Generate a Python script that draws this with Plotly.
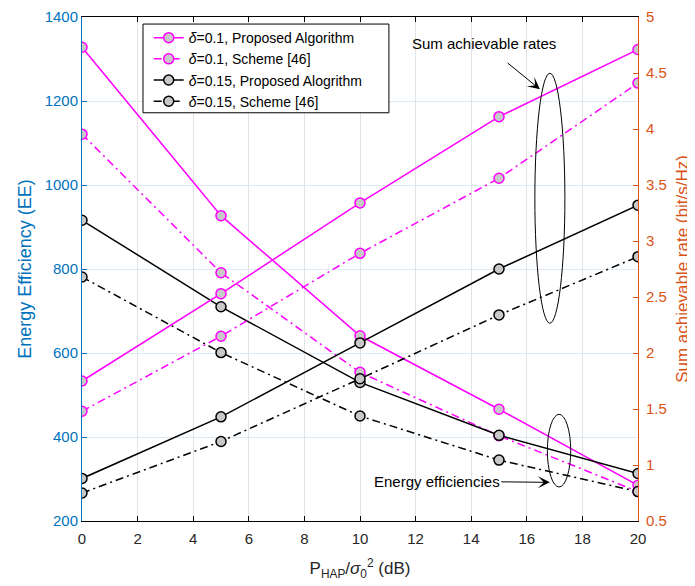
import plotly.graph_objects as go

# ---- data ----
snr_db = [0, 5, 10, 15, 20]

ee_prop_01 = [1328, 927, 641, 466, 285]
ee_sch_01 = [1121, 791, 554, 403, 270]
ee_prop_015 = [916, 710, 530, 404, 313]
ee_sch_015 = [781, 601, 450, 345, 270]

rate_prop_01 = [1.75, 2.53, 3.34, 4.11, 4.71]
rate_sch_01 = [1.48, 2.15, 2.89, 3.56, 4.41]
rate_prop_015 = [0.88, 1.43, 2.09, 2.75, 3.32]
rate_sch_015 = [0.75, 1.21, 1.77, 2.34, 2.86]

legend_names = [
    "<i>δ</i>=0.1, Proposed Algorithm",
    "<i>δ</i>=0.1, Scheme [46]",
    "<i>δ</i>=0.15, Proposed Alogrithm",
    "<i>δ</i>=0.15, Scheme [46]",
]

x_ticks = list(range(0, 21, 2))

# ---- styles ----
FONT = "Liberation Sans, Arial, sans-serif"
BLUE = "#0072BD"
ORANGE = "#D95319"
MAG = "#FF00FF"
BLK = "#000000"
GRAYFILL = "#C8C8C8"
DASHDOT = "8px,4px,2px,4px"

series = [
    (ee_prop_01, rate_prop_01, MAG, "solid"),
    (ee_sch_01, rate_sch_01, MAG, DASHDOT),
    (ee_prop_015, rate_prop_015, BLK, "solid"),
    (ee_sch_015, rate_sch_015, BLK, DASHDOT),
]

fig = go.Figure()

for i, (ee, rate, col, dash) in enumerate(series):
    mk = dict(symbol="circle", size=10, color=GRAYFILL, line=dict(color=col, width=1.5))
    fig.add_trace(go.Scatter(
        x=snr_db, y=ee, mode="lines+markers", name=legend_names[i],
        line=dict(color=col, width=1.5, dash=dash), marker=mk,
        yaxis="y", showlegend=True))
for i, (ee, rate, col, dash) in enumerate(series):
    mk = dict(symbol="circle", size=10, color=GRAYFILL, line=dict(color=col, width=1.5))
    fig.add_trace(go.Scatter(
        x=snr_db, y=rate, mode="lines+markers", name=legend_names[i],
        line=dict(color=col, width=1.5, dash=dash), marker=mk,
        yaxis="y2", showlegend=False))

# legend frame
fig.add_shape(type="rect", xref="paper", yref="paper", x0=0.1097, x1=0.552,
              y0=0.81, y1=0.986, fillcolor="white", layer="above",
              line=dict(color="black", width=1))

# ellipses marking groups of curves
fig.add_shape(type="circle", xref="x", yref="y", x0=16.29, x1=17.37, y0=671, y1=1266,
              line=dict(color="black", width=1))
fig.add_shape(type="circle", xref="x", yref="y", x0=16.74, x1=17.58, y0=281, y1=454,
              line=dict(color="black", width=1))

# annotations with arrows (text centred at the arrow tail)
fig.add_annotation(x=16.47, y=1228, ax=14.45, ay=1337, xref="x", yref="y",
                   axref="x", ayref="y", text="Sum achievable rates",
                   showarrow=True, arrowhead=3, arrowsize=2, arrowwidth=1,
                   arrowcolor="black", startstandoff=15,
                   font=dict(family=FONT, size=15, color="black"))
fig.add_annotation(x=16.83, y=292, ax=12.76, ay=295, xref="x", yref="y",
                   axref="x", ayref="y", text="Energy efficiencies",
                   showarrow=True, arrowhead=3, arrowsize=2, arrowwidth=1,
                   arrowcolor="black",
                   font=dict(family=FONT, size=15, color="black"))

# the page places the figure 8px from the top-left corner of the window
fig.update_layout(
    width=687, height=578,
    margin=dict(l=74, r=57, t=9, b=65, autoexpand=False),
    paper_bgcolor="white", plot_bgcolor="white",
    font=dict(family=FONT, size=15, color="black"),
    showlegend=True,
    legend=dict(x=0.12, y=0.99, xanchor="left", yanchor="top",
                bgcolor="rgba(0,0,0,0)", borderwidth=0,
                font=dict(family=FONT, size=14, color="black"),
                tracegroupgap=0),
    xaxis=dict(
        range=[0, 20], tickvals=x_ticks, ticks="inside", ticklen=5,
        tickcolor="black", showline=True, linecolor="black", linewidth=1,
        mirror="ticks", showgrid=True, gridcolor="#E3E3E3", gridwidth=1,
        zeroline=False, automargin=False, ticklabelstandoff=4,
        ticklabeloverflow="allow",
        tickfont=dict(family=FONT, size=15, color="#262626"),
        title=dict(text="P<sub>HAP</sub>/<i>σ</i><sub>0</sub><sup>2</sup> (dB)",
                   font=dict(family=FONT, size=17, color="#262626"), standoff=16),
    ),
    yaxis=dict(
        range=[200, 1400], dtick=200, ticks="inside", ticklen=5,
        tickcolor=BLUE, showline=True, linecolor=BLUE, linewidth=1,
        showgrid=True, gridcolor="#DCEAF5", gridwidth=1, zeroline=False,
        automargin=False, ticklabeloverflow="allow",
        tickfont=dict(family=FONT, size=15, color=BLUE),
        title=dict(text="Energy Efficiency (EE)",
                   font=dict(family=FONT, size=18, color=BLUE), standoff=8),
    ),
    yaxis2=dict(
        range=[0.5, 5], dtick=0.5, overlaying="y", side="right",
        ticks="inside", ticklen=5, tickcolor=ORANGE, showline=True,
        linecolor=ORANGE, linewidth=1, showgrid=False, zeroline=False,
        automargin=False, ticklabeloverflow="allow", ticklabelstandoff=4,
        tickfont=dict(family=FONT, size=15, color=ORANGE),
        title=dict(text="Sum achievable rate (bit/s/Hz)",
                   font=dict(family=FONT, size=17, color=ORANGE), standoff=10),
    ),
)

fig.write_html("out.html")
